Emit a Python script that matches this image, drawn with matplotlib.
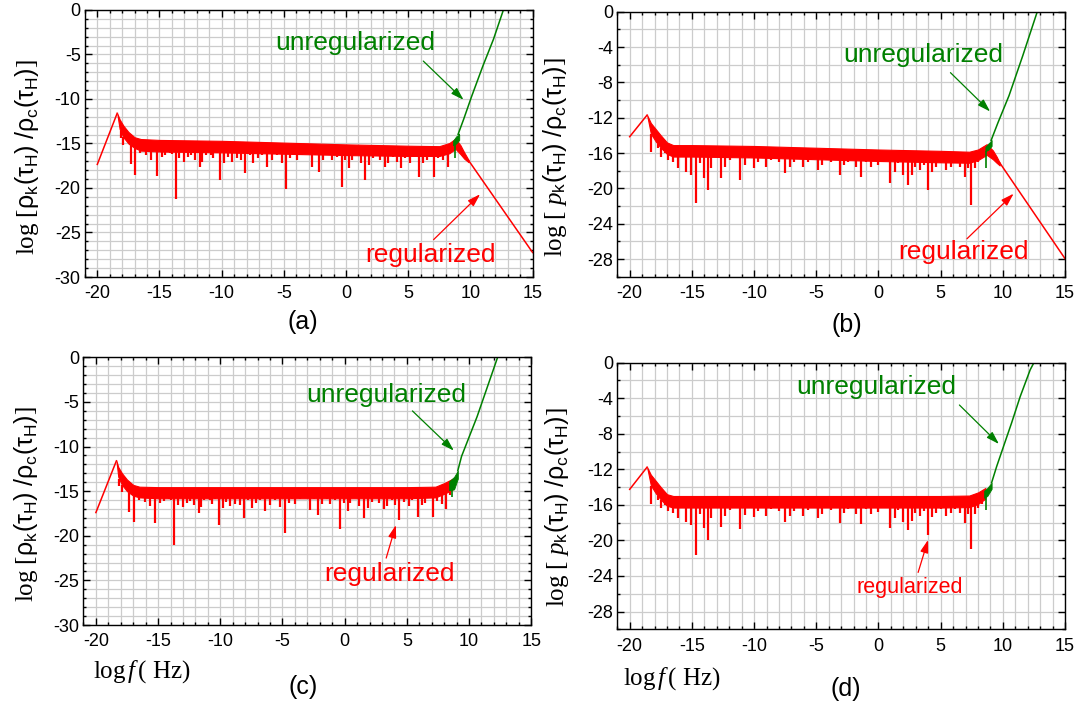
import numpy as np
import matplotlib
matplotlib.use('Agg')
import matplotlib.pyplot as plt
from matplotlib.ticker import MultipleLocator

plt.rcParams['font.family'] = ['Liberation Sans', 'DejaVu Sans']
plt.rcParams['axes.unicode_minus'] = False
plt.rcParams['mathtext.fontset'] = 'custom'
plt.rcParams['mathtext.rm'] = 'Liberation Serif'
plt.rcParams['mathtext.it'] = 'Liberation Serif:italic'
plt.rcParams['mathtext.sf'] = 'Liberation Sans'

RED = '#ff0000'
GREEN = '#008000'

# ---------------- data ----------------
# spike (dip) frequencies, same spectrum in (a)/(c) and in (b)/(d)
spike_x_ac = [-18.12, -17.91, -17.32, -16.97, -16.57, -16.09, -15.68, -15.23, -14.83, -14.56,
              -14.16, -13.97, -13.70, -13.41, -13.03, -12.68, -12.47, -12.15, -11.75, -11.56,
              -11.29, -10.86, -10.67, -10.40, -10.14, -9.79, -9.52, -9.20, -8.80, -8.45,
              -8.13, -7.73, -7.46, -7.11, -6.79, -6.39, -5.98, -5.58, -5.18, -4.83,
              -4.51, -4.24, -3.97, -3.57, -3.17, -2.77, -2.50, -2.18, -1.83, -1.43,
              -1.16, -0.76, -0.36, -0.09, 0.23, 0.45, 0.85, 1.17, 1.52, 1.84,
              2.19, 2.46, 2.73, 3.13, 3.40, 3.80, 4.07, 4.41, 4.74, 5.14,
              5.40, 5.86, 6.21, 6.48, 6.74, 7.09, 7.42, 7.82, 8.17, 8.49]
spike_a = [-14.40, -15.15, -17.33, -18.53, -16.09, -16.28, -16.84, -18.65, -16.47, -16.28,
           -16.09, -16.20, -21.24, -16.66, -17.03, -16.47, -16.28, -16.84, -17.60, -17.03,
           -16.28, -16.28, -16.66, -16.09, -19.10, -17.22, -16.47, -17.03, -16.66, -16.84,
           -18.35, -16.28, -17.22, -16.66, -16.28, -17.60, -16.84, -16.28, -17.22, -20.10,
           -16.66, -16.28, -16.84, -16.28, -16.09, -17.60, -16.28, -18.16, -16.84, -16.28,
           -16.84, -16.47, -19.85, -16.84, -17.78, -16.84, -16.09, -17.22, -19.10, -17.41,
           -16.66, -16.28, -16.84, -17.60, -17.22, -16.47, -17.03, -17.78, -16.66, -17.22,
           -16.47, -18.72, -17.22, -16.84, -16.28, -18.72, -16.66, -16.84, -17.60, -15.90]
spike_c = [-14.4, -15.1, -17.3, -18.45, -16.0, -16.2, -16.7, -18.6, -16.3, -16.1,
           -15.9, -16.0, -21.05, -16.5, -16.8, -16.3, -16.1, -16.6, -17.4, -16.8,
           -16.0, -16.0, -16.4, -15.9, -18.75, -16.9, -16.2, -16.7, -16.4, -16.5,
           -18.0, -16.0, -16.9, -16.3, -16.0, -17.2, -16.5, -16.0, -16.8, -19.7,
           -16.3, -15.9, -16.4, -15.9, -15.7, -17.1, -15.9, -17.7, -16.4, -15.9,
           -16.4, -16.0, -19.2, -16.3, -17.2, -16.3, -15.7, -16.7, -18.0, -16.9,
           -16.2, -15.8, -16.3, -17.0, -16.7, -16.0, -16.5, -18.2, -16.2, -16.7,
           -16.0, -17.9, -16.6, -16.3, -15.8, -17.9, -16.1, -16.4, -17.0, -15.4]

spike_x_bd = [-18.26, -17.72, -17.46, -17.19, -16.92, -16.52, -16.12, -15.71, -15.45, -15.05,
              -14.67, -14.37, -14.03, -13.71, -13.44, -13.04, -12.69, -12.37, -11.96, -11.56,
              -11.16, -10.76, -10.44, -10.01, -9.69, -9.36, -9.02, -8.61, -8.35, -8.03,
              -7.54, -7.14, -6.79, -6.47, -6.07, -5.67, -5.13, -4.86, -4.54, -4.19,
              -3.85, -3.52, -3.12, -2.77, -2.45, -2.13, -1.78, -1.38, -0.98, -0.58,
              -0.31, -0.04, 0.36, 0.90, 1.30, 1.57, 1.97, 2.37, 2.69, 2.91,
              3.31, 3.66, 3.98, 4.30, 4.65, 5.05, 5.45, 5.80, 6.12, 6.52,
              6.93, 7.19, 7.41, 7.73, 8.00, 8.32]
spike_b = [-15.92, -15.47, -16.41, -16.04, -16.79, -16.98, -17.66, -16.41, -18.11, -18.49,
           -21.70, -17.17, -18.87, -20.19, -17.74, -16.23, -18.87, -17.55, -16.79, -16.23,
           -19.06, -17.36, -16.60, -17.74, -16.98, -16.41, -17.55, -16.79, -16.23, -16.98,
           -18.30, -17.55, -16.98, -16.60, -17.55, -16.98, -16.60, -17.92, -17.36, -16.79,
           -16.98, -16.60, -18.49, -17.36, -16.98, -16.79, -17.55, -18.68, -16.98, -17.55,
           -16.79, -17.36, -16.98, -19.43, -18.11, -17.17, -18.49, -19.62, -18.49, -17.55,
           -17.92, -17.36, -20.19, -18.11, -17.55, -17.17, -17.92, -17.55, -17.17, -17.55,
           -18.68, -17.74, -21.89, -17.74, -16.98, -16.60]
spike_d = [-15.9, -15.5, -16.4, -16.0, -16.7, -16.9, -17.5, -16.3, -17.9, -18.3,
           -21.6, -17.0, -18.6, -19.95, -17.5, -16.1, -18.5, -17.3, -16.6, -16.0,
           -18.7, -17.1, -16.4, -17.4, -16.7, -16.2, -17.2, -16.5, -16.0, -16.7,
           -17.9, -17.2, -16.7, -16.3, -17.2, -16.6, -16.3, -17.5, -17.0, -16.4,
           -16.6, -16.2, -18.0, -16.9, -16.5, -16.3, -17.0, -18.1, -16.5, -17.0,
           -16.3, -16.8, -16.4, -18.6, -17.5, -16.6, -17.9, -18.8, -17.8, -16.9,
           -17.3, -16.7, -19.4, -17.4, -16.9, -16.5, -17.2, -16.9, -16.5, -16.9,
           -18.0, -17.0, -21.0, -17.0, -16.3, -15.9]

# low-frequency rise up to the first peak
rise_x_a, rise_y_a = [-20.0, -18.4], [-17.35, -11.6]
rise_x_b, rise_y_b = [-20.0, -18.6], [-14.15, -11.7]
rise_x_c, rise_y_c = [-20.0, -18.35], [-17.4, -11.6]
rise_x_d, rise_y_d = [-20.0, -18.6], [-14.25, -11.75]

# upper and lower edge of the dense red band
band_x_a = [-18.4, -18.2, -17.9, -17.5, -17.0, -16.5, -15.0, -10.0, -5.0, 0.0, 5.0, 7.5, 8.3, 8.8, 9.2, 9.5, 9.85]
top_a = [-11.6, -12.3, -13.0, -13.7, -14.3, -14.5, -14.6, -14.7, -14.9, -15.1, -15.25, -15.3, -14.95, -14.45, -15.2, -16.0, -16.85]
bot_a = [-11.6, -13.4, -14.3, -15.0, -15.5, -15.8, -15.9, -16.0, -16.15, -16.3, -16.4, -16.4, -16.1, -15.6, -16.2, -16.7, -17.1]
band_x_b = [-18.6, -18.3, -17.9, -17.5, -17.0, -16.5, -15.0, -10.0, -5.0, 0.0, 5.0, 7.3, 8.0, 8.7, 9.2, 9.5, 9.75]
top_b = [-11.7, -12.6, -13.3, -14.0, -14.8, -15.1, -15.1, -15.2, -15.4, -15.6, -15.75, -15.85, -15.6, -15.0, -15.7, -16.4, -17.1]
bot_b = [-11.7, -13.8, -14.7, -15.4, -16.1, -16.4, -16.4, -16.5, -16.7, -16.9, -17.05, -17.1, -16.8, -16.2, -16.7, -17.1, -17.4]
band_x_c = [-18.35, -18.2, -17.9, -17.5, -17.0, -16.5, -15.0, -10.0, -5.0, 0.0, 5.0, 7.3, 8.0, 8.7]
top_c = [-11.6, -12.3, -13.0, -13.7, -14.3, -14.5, -14.55, -14.55, -14.55, -14.55, -14.55, -14.5, -14.1, -13.6]
bot_c = [-11.6, -13.4, -14.3, -15.0, -15.5, -15.7, -15.8, -15.8, -15.8, -15.8, -15.8, -15.7, -15.3, -14.8]
band_x_d = [-18.6, -18.3, -17.9, -17.5, -17.0, -16.5, -15.0, -10.0, -5.0, 0.0, 5.0, 7.3, 8.0, 8.6]
top_d = [-11.75, -12.6, -13.3, -14.0, -14.8, -15.0, -15.0, -15.0, -15.0, -15.0, -15.0, -14.95, -14.6, -14.1]
bot_d = [-11.75, -13.8, -14.7, -15.4, -16.1, -16.3, -16.3, -16.3, -16.3, -16.3, -16.3, -16.25, -15.9, -15.3]

# regularized high-frequency tail (only a and b)
tail_x_a, tail_y_a = [9.85, 15.0], [-16.9, -27.25]
tail_x_b, tail_y_b = [9.75, 15.0], [-17.1, -27.95]

# unregularized: noisy knot near 9 and the steep rise
gband_x_a, gtop_a, gbot_a = [8.6, 8.85, 9.1], [-14.7, -14.2, -14.0], [-15.2, -15.0, -14.6]
gband_x_b, gtop_b, gbot_b = [8.6, 8.85, 9.1], [-15.3, -14.9, -14.6], [-15.8, -15.6, -15.2]
gband_x_c, gtop_c, gbot_c = [8.4, 8.8, 9.1], [-13.9, -13.4, -12.7], [-14.9, -14.8, -13.6]
gband_x_d, gtop_d, gbot_d = [8.5, 8.75, 9.1], [-14.4, -14.1, -13.5], [-15.2, -15.0, -14.2]
gspike_a, gspike_b, gspike_c, gspike_d = (8.72, -16.6), (8.67, -17.74), (8.63, -15.6), (8.64, -16.57)
green_x_a, green_y_a = [9.0, 9.45, 10.1, 11.0, 11.85, 12.65], [-14.0, -12.3, -9.7, -6.3, -3.3, 0.0]
green_x_b, green_y_b = [9.05, 9.6, 10.5, 11.6, 12.77], [-14.6, -12.6, -9.5, -5.0, 0.0]
green_x_c, green_y_c = [9.1, 9.4, 10.65, 12.3], [-12.7, -11.1, -6.65, 0.0]
green_x_d, green_y_d = [9.1, 9.5, 10.05, 10.7, 11.4, 12.2, 12.5], [-13.5, -11.7, -9.45, -6.8, -3.8, -0.8, 0.0]

x_ticks = [-20, -15, -10, -5, 0, 5, 10, 15]

ylabel_rho = r'$\mathrm{log\ [}\mathsf{\rho_k(\tau_H)\ /\rho_c(\tau_H)}\mathrm{]}$'
ylabel_p = r'$\mathrm{log\ [\ }\mathit{p}_\mathsf{k}\mathsf{(\tau_H)\ /\rho_c(\tau_H)}\mathrm{]}$'
xlabel = r'$\mathrm{log}\,\mathit{f}\,\mathrm{(\ Hz)}$'


def draw(ax, rise, band, spikes, gband, gspike, green, tail=None):
    rx, ry = rise
    bx, bt, bb = band
    sx, sy = spikes
    ax.plot(rx, ry, color=RED, lw=1.1)
    ax.fill_between(bx, bt, bb, color=RED, lw=0.8, edgecolor=RED)
    lower = np.interp(sx, bx, bb)
    ax.vlines(sx, lower, sy, color=RED, lw=1.6)
    if tail is not None:
        ax.plot(tail[0], tail[1], color=RED, lw=1.1)
    gx, gt, gb = gband
    ax.fill_between(gx, gt, gb, color=GREEN, lw=0.6, edgecolor=GREEN)
    ax.vlines([gspike[0]], [np.interp(gspike[0], gx, gb)], [gspike[1]], color=GREEN, lw=1.2)
    ax.plot([gx[-1]] + list(green[0]), [gt[-1]] + list(green[1]), color=GREEN, lw=1.1)


def style(ax, ymaj, ymin):
    ax.set_xlim(-21, 15)
    ax.set_ylim(-30, 0)
    ax.set_xticks(x_ticks)
    ax.xaxis.set_minor_locator(MultipleLocator(1))
    ax.yaxis.set_major_locator(MultipleLocator(ymaj))
    ax.yaxis.set_minor_locator(MultipleLocator(ymin))
    ax.grid(which='both', color='#cccccc', lw=0.9)
    ax.set_axisbelow(True)
    ax.tick_params(which='both', direction='in', top=True, right=True, width=1.0, labelsize=13)
    ax.tick_params(which='major', length=5)
    ax.tick_params(which='minor', length=2.5)
    ax.tick_params(axis='x', pad=6)
    ax.tick_params(axis='y', pad=3)
    for s in ax.spines.values():
        s.set_linewidth(1.0)


fig = plt.figure(figsize=(10.81, 7.13), dpi=100)
ax_a = fig.add_axes([0.0785, 0.6115, 0.4142, 0.3745])
ax_b = fig.add_axes([0.5710, 0.6119, 0.4142, 0.3717])
ax_c = fig.add_axes([0.0772, 0.1234, 0.4142, 0.3755])
ax_d = fig.add_axes([0.5710, 0.1174, 0.4142, 0.3739])

draw(ax_a, (rise_x_a, rise_y_a), (band_x_a, top_a, bot_a), (spike_x_ac, spike_a),
     (gband_x_a, gtop_a, gbot_a), gspike_a, (green_x_a, green_y_a), (tail_x_a, tail_y_a))
draw(ax_b, (rise_x_b, rise_y_b), (band_x_b, top_b, bot_b), (spike_x_bd, spike_b),
     (gband_x_b, gtop_b, gbot_b), gspike_b, (green_x_b, green_y_b), (tail_x_b, tail_y_b))
draw(ax_c, (rise_x_c, rise_y_c), (band_x_c, top_c, bot_c), (spike_x_ac, spike_c),
     (gband_x_c, gtop_c, gbot_c), gspike_c, (green_x_c, green_y_c))
draw(ax_d, (rise_x_d, rise_y_d), (band_x_d, top_d, bot_d), (spike_x_bd, spike_d),
     (gband_x_d, gtop_d, gbot_d), gspike_d, (green_x_d, green_y_d))

style(ax_a, 5, 1)
style(ax_b, 4, 2)
style(ax_c, 5, 1)
style(ax_d, 4, 2)

arrow_g = dict(arrowstyle='-|>,head_length=0.7,head_width=0.22', color=GREEN, lw=0.9,
               shrinkA=0, shrinkB=0, mutation_scale=11)
arrow_r = dict(arrowstyle='-|>,head_length=0.7,head_width=0.22', color=RED, lw=0.9,
               shrinkA=0, shrinkB=0, mutation_scale=11)

# (a)
ax_a.text(-5.66, -3.75, 'unregularized', color=GREEN, fontsize=19, ha='left', va='center')
ax_a.annotate('', xy=(9.45, -10.1), xytext=(6.21, -5.74), arrowprops=arrow_g)
ax_a.text(1.55, -27.55, 'regularized', color=RED, fontsize=19, ha='left', va='center')
ax_a.annotate('', xy=(10.78, -20.7), xytext=(7.04, -25.8), arrowprops=arrow_r)
# (b)
ax_b.text(-2.86, -4.9, 'unregularized', color=GREEN, fontsize=19, ha='left', va='center')
ax_b.annotate('', xy=(8.98, -11.3), xytext=(5.79, -6.9), arrowprops=arrow_g)
ax_b.text(1.58, -27.25, 'regularized', color=RED, fontsize=19, ha='left', va='center')
ax_b.annotate('', xy=(10.87, -20.6), xytext=(7.12, -25.7), arrowprops=arrow_r)
# (c)
ax_c.text(-3.09, -4.22, 'unregularized', color=GREEN, fontsize=19, ha='left', va='center')
ax_c.annotate('', xy=(8.78, -10.46), xytext=(5.45, -6.01), arrowprops=arrow_g)
ax_c.text(-1.62, -24.28, 'regularized', color=RED, fontsize=19, ha='left', va='center')
ax_c.annotate('', xy=(4.12, -18.8), xytext=(3.34, -22.5), arrowprops=arrow_r)
# (d)
ax_d.text(-6.58, -2.7, 'unregularized', color=GREEN, fontsize=19, ha='left', va='center')
ax_d.annotate('', xy=(9.69, -9.15), xytext=(6.51, -4.76), arrowprops=arrow_g)
ax_d.text(-1.79, -25.26, 'regularized', color=RED, fontsize=15.5, ha='left', va='center')
ax_d.annotate('', xy=(3.99, -19.94), xytext=(3.19, -23.6), arrowprops=arrow_r)

# y labels
ax_a.text(-0.129, 0.45, ylabel_rho, transform=ax_a.transAxes, rotation=90,
          ha='center', va='center', fontsize=18)
ax_b.text(-0.138, 0.453, ylabel_p, transform=ax_b.transAxes, rotation=90,
          ha='center', va='center', fontsize=18)
ax_c.text(-0.129, 0.451, ylabel_rho, transform=ax_c.transAxes, rotation=90,
          ha='center', va='center', fontsize=18)
ax_d.text(-0.134, 0.457, ylabel_p, transform=ax_d.transAxes, rotation=90,
          ha='center', va='center', fontsize=18)

# x labels and panel tags
W, H = 1081.0, 713.0
fig.text(93 / W, 1 - 671.7 / H, xlabel, fontsize=18, ha='left', va='center')
fig.text(622.8 / W, 1 - 678.3 / H, xlabel, fontsize=18, ha='left', va='center')
fig.text(303.3 / W, 1 - 321.7 / H, '(a)', fontsize=18, ha='center', va='center')
fig.text(846.4 / W, 1 - 325.0 / H, '(b)', fontsize=18, ha='center', va='center')
fig.text(303.5 / W, 1 - 687.3 / H, '(c)', fontsize=18, ha='center', va='center')
fig.text(845.9 / W, 1 - 689.3 / H, '(d)', fontsize=18, ha='center', va='center')

fig.savefig('out.png', dpi=100)
